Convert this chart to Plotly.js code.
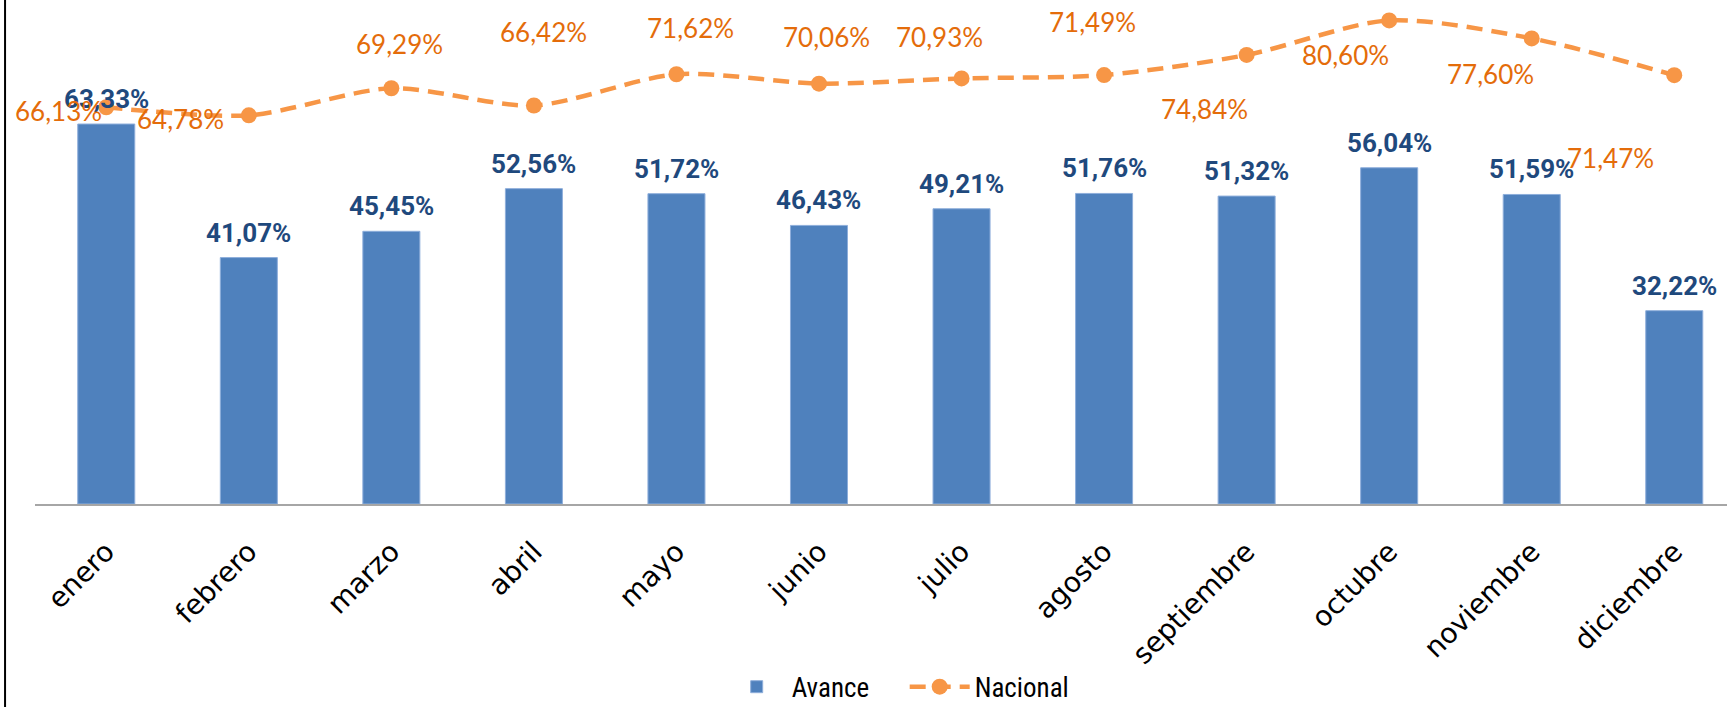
<!DOCTYPE html>
<html>
<head>
<meta charset="utf-8">
<script src="https://cdn.plot.ly/plotly-3.0.1.min.js"></script>
<style>
  html, body { margin: 0; padding: 0; background: #ffffff; }
  #chart { width: 1727px; height: 707px; }
</style>
</head>
<body>
<div id="chart"></div>
<script>
// ---- Data ----
const months = ["enero", "febrero", "marzo", "abril", "mayo", "junio",
                "julio", "agosto", "septiembre", "octubre", "noviembre", "diciembre"];
const avance = [63.33, 41.07, 45.45, 52.56, 51.72, 46.43, 49.21, 51.76, 51.32, 56.04, 51.59, 32.22];
const nacional = [66.13, 64.78, 69.29, 66.42, 71.62, 70.06, 70.93, 71.49, 74.84, 80.60, 77.60, 71.47];

// ---- Label placement (pixel offsets of the Nacional labels from their points) ----
const nacLabelDx = [-48, -68, 8, 10, 14, 8, -22, -12, -42, -44, -41, -64];
const nacLabelDy = [-4, -4, 44, 73, 46, 47, 41, 53, -54, -35, -36, -83];

const fmt = v => v.toFixed(2).replace('.', ',') + '%';

const barColor = '#4F81BD';
const lineColor = '#F79646';
const barLabelColor = '#1F497D';
const lineLabelColor = '#E46C0A';

const traces = [
  {
    type: 'bar',
    name: 'Avance',
    x: months,
    y: avance,
    width: 0.4,
    marker: { color: barColor, line: { color: '#8EAEDB', width: 1 } },
    hoverinfo: 'x+y'
  },
  {
    type: 'scatter',
    mode: 'lines+markers',
    name: 'Nacional',
    x: months,
    y: nacional,
    line: { color: lineColor, width: 4.5, dash: '16px,9px', shape: 'spline', smoothing: 0.8 },
    marker: { color: lineColor, size: 16 },
    cliponaxis: false
  }
];

const annotations = [];
avance.forEach((v, i) => {
  annotations.push({
    x: months[i], y: v, xref: 'x', yref: 'y',
    text: fmt(v), showarrow: false,
    xanchor: 'center', yanchor: 'bottom', yshift: 8,
    font: { family: 'Roboto, Arial, sans-serif', size: 26, color: barLabelColor, weight: 'bold' }
  });
});
nacional.forEach((v, i) => {
  annotations.push({
    x: months[i], y: v, xref: 'x', yref: 'y',
    text: fmt(v), showarrow: false,
    xanchor: 'center', yanchor: 'middle',
    xshift: nacLabelDx[i], yshift: nacLabelDy[i],
    font: { family: 'Lato, "Open Sans", sans-serif', size: 26, color: lineLabelColor, weight: 400 }
  });
});

const layout = {
  width: 1727,
  height: 707,
  margin: { l: 35, r: 0, t: 0, b: 203, autoexpand: false },
  paper_bgcolor: '#ffffff',
  plot_bgcolor: '#ffffff',
  showlegend: true,
  legend: {
    orientation: 'h',
    x: 0.514, xanchor: 'center',
    y: -0.412, yanchor: 'bottom',
    font: { family: '"Liberation Sans Narrow", "Roboto Condensed", Roboto, sans-serif', size: 27, color: '#000000' },
    itemwidth: 60,
    entrywidth: 108,
    traceorder: 'normal'
  },
  xaxis: {
    type: 'category',
    range: [-0.5, 11.37],
    showline: true,
    linecolor: '#A6A6A6',
    linewidth: 2,
    ticks: '',
    tickangle: -45,
    ticklabelstandoff: 18,
    automargin: false,
    tickfont: { family: '"DejaVu Sans", sans-serif', size: 28, color: '#000000' },
    showgrid: false,
    zeroline: false,
    fixedrange: true
  },
  yaxis: {
    range: [0, 84],
    visible: false,
    showgrid: false,
    zeroline: false,
    fixedrange: true
  },
  shapes: [
    {
      type: 'line', xref: 'paper', yref: 'paper',
      x0: -0.0177, x1: -0.0177, y0: -0.41, y1: 1.01,
      line: { color: '#000000', width: 2 }
    }
  ],
  annotations: annotations
};

Plotly.newPlot('chart', traces, layout, { displayModeBar: false, staticPlot: true });
</script>
</body>
</html>
